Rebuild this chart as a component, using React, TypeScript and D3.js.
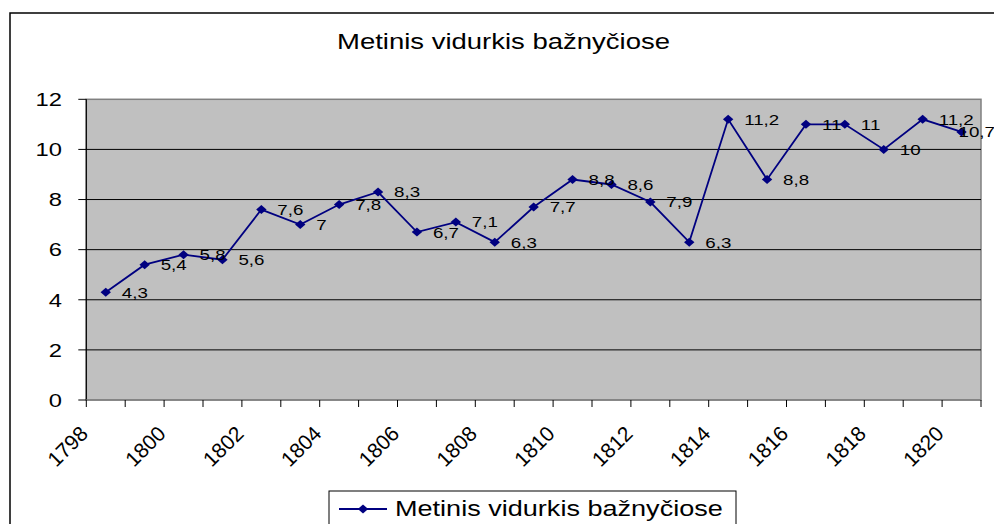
import React from 'react';
import * as d3 from 'd3';

// yearly average, one value per year
const years = d3.range(1798, 1821).map(String);
const values = [4.3, 5.4, 5.8, 5.6, 7.6, 7, 7.8, 8.3, 6.7, 7.1, 6.3, 7.7, 8.8, 8.6, 7.9, 6.3, 11.2, 8.8, 11, 11, 10, 11.2, 10.7];
const yTicks = [0, 2, 4, 6, 8, 10, 12];
const xLabels = years.filter((_, i) => i % 2 === 0);
const title = 'Metinis vidurkis bažnyčiose';

const W = 994;
const H = 524;
const plot = { left: 86.3, right: 981, top: 99.3, bottom: 400 };
const chartRight = 995;
const SX = 1.25; // the original picture is stretched sideways
const FONT = '"Liberation Sans", Arial, sans-serif';
const NAVY = '#000080';

const diamond = (cx: number, cy: number) =>
  `M${cx},${cy - 4.5}L${cx + 5.2},${cy}L${cx},${cy + 4.5}L${cx - 5.2},${cy}Z`;

// rough Arial advance widths, enough to keep a label inside the chart area
const textWidth = (s: string, size: number) =>
  s.split('').reduce((w, c) => w + (c === ',' ? 0.278 : 0.556), 0) * size * SX;

export default function App() {
  const x = d3.scaleBand<string>().domain(years).range([plot.left, plot.right]).paddingInner(0).paddingOuter(0);
  const y = d3.scaleLinear().domain([0, 12]).range([plot.bottom, plot.top]);
  const cx = (d: string) => (x(d) ?? 0) + x.bandwidth() / 2;

  const line = d3.line<number>()
    .x((_, i) => cx(years[i]))
    .y(v => y(v));

  const fmt = (v: number) => String(v).replace('.', ',');
  const boundaries = years.map(d => x(d) ?? 0).concat([plot.right]);

  return (
    <svg width={W} height={H} style={{ position: 'absolute', left: 0, top: 0, background: '#fff' }} fontFamily={FONT}>
      {/* chart area border */}
      <rect x={10} y={13} width={W + 20} height={H + 20} fill="#fff" stroke="#000" strokeWidth={1.5} />

      <text transform={`translate(503.5,49) scale(${SX},1)`} textAnchor="middle" fontSize={22} fill="#000">{title}</text>

      {/* plot area */}
      <rect x={plot.left} y={plot.top} width={plot.right - plot.left} height={plot.bottom - plot.top}
        fill="#C0C0C0" stroke="#808080" strokeWidth={1.5} />

      {yTicks.filter(t => t > 0 && t < 12).map(t => (
        <line key={t} x1={plot.left} x2={plot.right} y1={y(t)} y2={y(t)} stroke="#000" strokeWidth={1} />
      ))}

      {/* y axis */}
      <line x1={plot.left} x2={plot.left} y1={plot.top} y2={plot.bottom} stroke="#000" strokeWidth={1.2} />
      {yTicks.map(t => (
        <g key={t}>
          <line x1={plot.left - 8} x2={plot.left} y1={y(t)} y2={y(t)} stroke="#000" strokeWidth={1} />
          <text transform={`translate(62,${y(t)}) scale(${SX},1)`} dy="0.36em" textAnchor="end" fontSize={19} fill="#000">{t}</text>
        </g>
      ))}

      {/* x axis */}
      <line x1={plot.left} x2={plot.right} y1={plot.bottom} y2={plot.bottom} stroke="#808080" strokeWidth={1.5} />
      {boundaries.map((b, i) => (
        <line key={i} x1={b} x2={b} y1={plot.bottom} y2={plot.bottom + 7} stroke="#000" strokeWidth={1} />
      ))}
      {xLabels.map(d => (
        <text key={d} transform={`translate(${(x(d) ?? 0) + 3},${plot.bottom + 35}) rotate(-45)`}
          textAnchor="end" fontSize={21} fill="#000">{d}</text>
      ))}

      {/* series */}
      <path d={line(values) ?? ''} fill="none" stroke={NAVY} strokeWidth={1.8} />
      {values.map((v, i) => (
        <path key={i} d={diamond(cx(years[i]), y(v))} fill={NAVY} />
      ))}
      {values.map((v, i) => {
        const lx = Math.min(cx(years[i]) + 16, chartRight - textWidth(fmt(v), 15));
        return (
          <text key={i} transform={`translate(${lx},${y(v)}) scale(${SX},1)`} dy="0.36em"
            fontSize={15} fill="#000">{fmt(v)}</text>
        );
      })}

      {/* legend */}
      <rect x={329} y={491} width={407} height={50} fill="#fff" stroke="#000" strokeWidth={1} />
      <line x1={339} x2={387} y1={509} y2={509} stroke={NAVY} strokeWidth={1.8} />
      <path d={diamond(363, 509)} fill={NAVY} />
      <text transform={`translate(395,516) scale(1.23,1)`} fontSize={22} fill="#000">{title}</text>
    </svg>
  );
}
